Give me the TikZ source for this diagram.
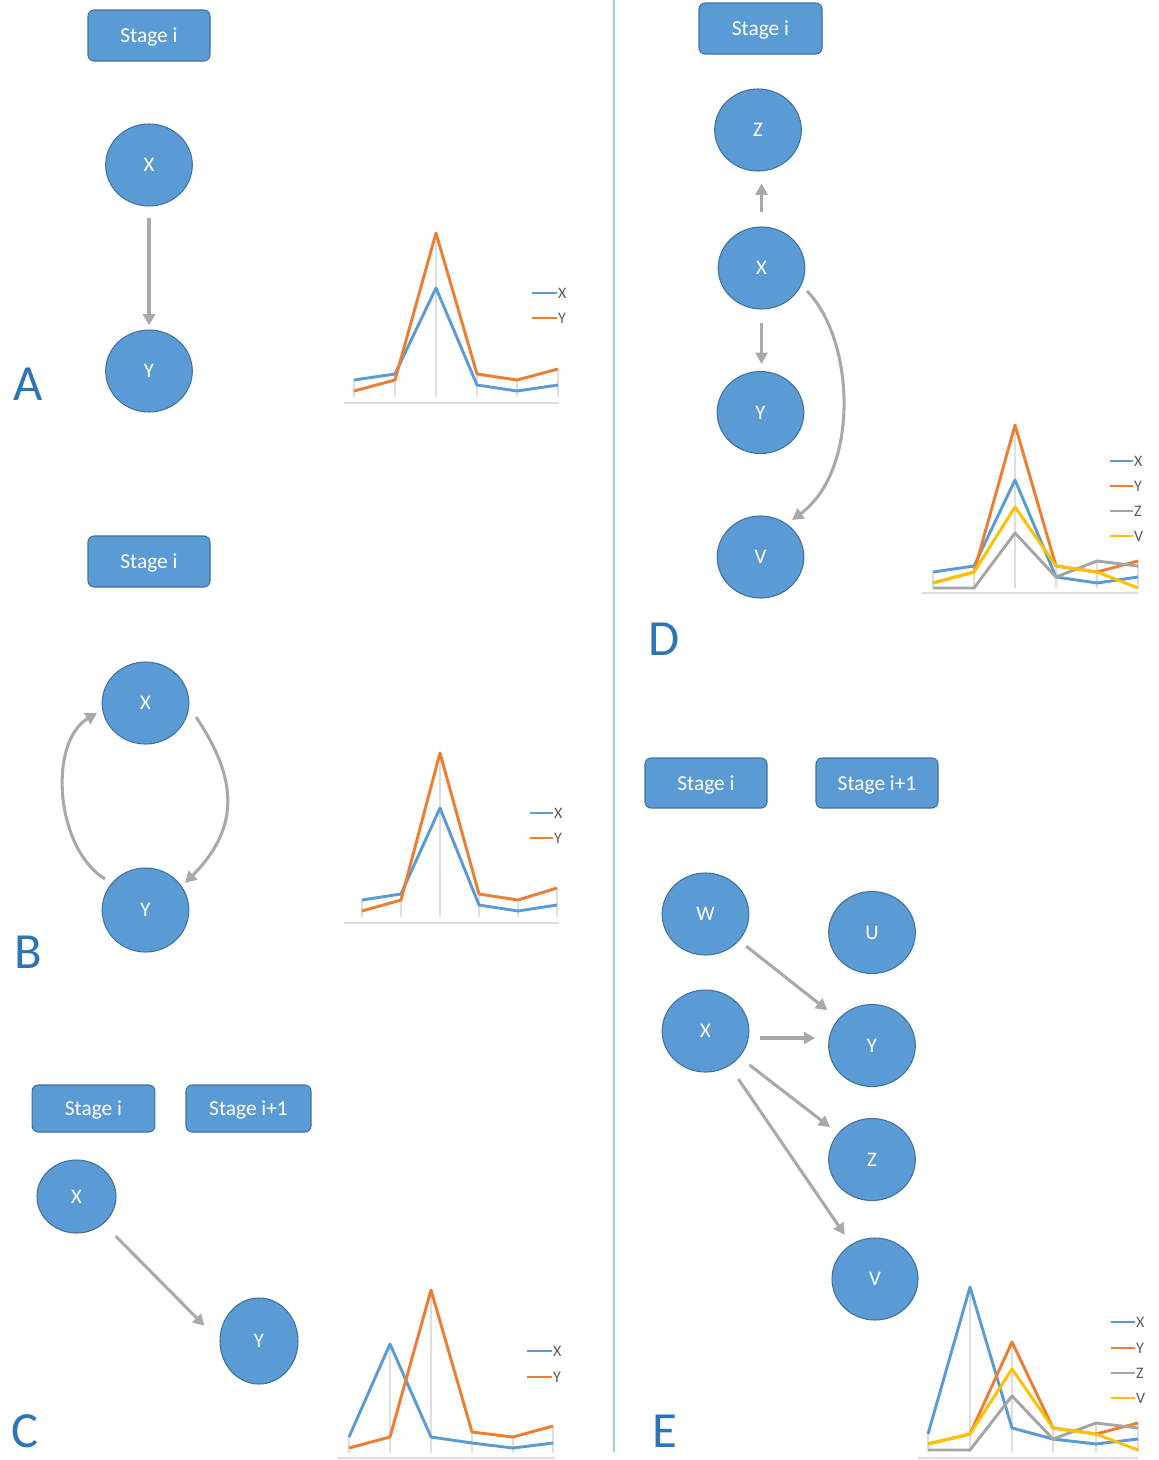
\documentclass[tikz,border=0pt]{standalone}
\usepackage{fontspec}
\setmainfont{Carlito}
\usetikzlibrary{arrows.meta,shapes.geometric,calc}
\definecolor{nodefill}{HTML}{5B9BD5}
\definecolor{nodeedge}{HTML}{41719C}
\definecolor{arrgray}{HTML}{A9A9A9}
\definecolor{letterblue}{HTML}{2E75B6}
\definecolor{divider}{HTML}{A9CBEA}
\definecolor{gridgray}{HTML}{DEDEDE}
\definecolor{sblue}{HTML}{5B9BD5}
\definecolor{sorange}{HTML}{ED7D31}
\definecolor{sgray}{HTML}{A5A5A5}
\definecolor{syellow}{HTML}{FFC000}
\definecolor{legtext}{HTML}{595959}
\begin{document}
\begin{tikzpicture}[x=0.75pt,y=-0.75pt,
  cnode/.style={ellipse,draw=nodeedge,line width=0.8pt,fill=nodefill,
    minimum width=65pt,minimum height=61.5pt,inner sep=0pt,text=white,
    font=\fontsize{15.5}{18}\selectfont},
  stagebox/.style={rectangle,rounded corners=4.5pt,draw=nodeedge,line width=0.8pt,
    fill=nodefill,minimum width=91.5pt,minimum height=38.25pt,inner sep=0pt,
    text=white,text depth=0pt,font=\fontsize{16}{19}\selectfont},
  panel/.style={text=letterblue,inner sep=0pt,font=\fontsize{38}{44}\selectfont},
  arr/.style={draw=arrgray,line width=2.3pt,
    -{Triangle[length=8.5pt,width=9pt]}},
  dropline/.style={draw=gridgray,line width=0.8pt},
  axisline/.style={draw=gridgray,line width=1.1pt},
  series/.style={line width=2.2pt,line join=round},
  serX/.style={series,draw=sblue},
  serY/.style={series,draw=sorange},
  serZ/.style={series,draw=sgray},
  serV/.style={series,draw=syellow},
  legline/.style={line width=2.2pt},
  legtxt/.style={anchor=west,inner sep=0.6pt,text=legtext,
    font=\fontsize{12}{14}\selectfont},
]
\useasboundingbox (0,0) rectangle (1158,1460);

% column divider
\draw[divider,line width=1.1pt] (614,0) -- (614,1452);

%% ---------------- Panel A ----------------
\node[stagebox] (aS) at (149,35.5) {Stage i};
\node[cnode] (aX) at (149,165) {X};
\node[cnode] (aY) at (149,371) {Y};
\draw[arr,shorten <=8.25pt,shorten >=3pt] (aX) -- (aY);
\node[panel] (aL) at (28,384.5) {A};

\draw[dropline] (354,380)--(354,397) (395,374)--(395,397) (436,233)--(436,397)
  (477,374)--(477,397) (517,380)--(517,397) (558,369)--(558,397);
\draw[axisline] (344,403)--(559,403);
\draw[serX] (354,380)--(395,374)--(436,288)--(477,385)--(517,391)--(558,385);
\draw[serY] (354,391)--(395,380)--(436,233)--(477,374)--(517,380)--(558,369);
\draw[legline,sblue] (532,293)--(557,293);
\node[legtxt] at (557,293) {X};
\draw[legline,sorange] (532,318)--(557,318);
\node[legtxt] at (557,318) {Y};

%% ---------------- Panel B ----------------
\node[stagebox] (bS) at (149,561.5) {Stage i};
\node[cnode] (bX) at (145.5,703) {X};
\node[cnode,minimum height=63pt] (bY) at (145.5,910) {Y};
\draw[arr] ($(bX)+(50.5,14)$) .. controls ($(bX)+(89.5,72)$) and ($(bY)+(97.5,-85)$) .. ($(bY)+(39.5,-27)$);
\draw[arr] ($(bY)+(-40.5,-31)$) .. controls ($(bY)+(-90.5,-62)$) and ($(bX)+(-97.5,39)$) .. ($(bX)+(-48.5,10)$);
\node[panel] (bL) at (28,952) {B};

\draw[dropline] (362,900)--(362,917) (401,894)--(401,917) (440,753)--(440,917)
  (479,894)--(479,917) (518,900)--(518,917) (557,888)--(557,917);
\draw[axisline] (344,923)--(559,923);
\draw[serX] (362,900)--(401,894)--(440,808)--(479,905)--(518,911)--(557,905);
\draw[serY] (362,911)--(401,900)--(440,753)--(479,894)--(518,900)--(557,888);
\draw[legline,sblue] (530,813)--(553,813);
\node[legtxt] at (553,813) {X};
\draw[legline,sorange] (530,838)--(553,838);
\node[legtxt] at (553,838) {Y};

%% ---------------- Panel C ----------------
\node[stagebox,minimum width=92pt,minimum height=35.25pt] (cS) at (93.5,1108.5) {Stage i};
\node[stagebox,minimum width=93.75pt,minimum height=35.25pt] (cT) at (248.5,1108.5) {Stage i+1};
\node[cnode,minimum width=59.25pt,minimum height=54.75pt] (cX) at (76.5,1196.5) {X};
\node[cnode,minimum width=58.5pt,minimum height=64.5pt] (cY) at (259,1341) {Y};
\draw[arr,shorten <=13pt,shorten >=16pt] (cX) -- (cY.west);
\node[panel] (cL) at (25,1431.5) {C};

\draw[dropline] (349,1437)--(349,1453) (390,1344)--(390,1453) (431,1290)--(431,1453)
  (472,1432)--(472,1453) (513,1437)--(513,1453) (553,1426)--(553,1453);
\draw[axisline] (338,1458)--(555,1458);
\draw[serX] (349,1437)--(390,1344)--(431,1437)--(472,1443)--(513,1448)--(553,1443);
\draw[serY] (349,1448)--(390,1437)--(431,1290)--(472,1432)--(513,1437)--(553,1426);
\draw[legline,sblue] (527,1351)--(552,1351);
\node[legtxt] at (552,1351) {X};
\draw[legline,sorange] (527,1377)--(552,1377);
\node[legtxt] at (552,1377) {Y};

%% ---------------- Panel D ----------------
\node[stagebox,minimum width=92.25pt] (dS) at (760.5,28.5) {Stage i};
\node[cnode] (dZ) at (758,130) {Z};
\node[cnode] (dX) at (761.5,268) {X};
\node[cnode] (dY) at (760.5,412.5) {Y};
\node[cnode] (dV) at (760.5,557) {V};
\draw[arr,shorten <=10.5pt,shorten >=9pt] (dX.north) -- (dX.north |- dZ.south);
\draw[arr,shorten <=9.75pt,shorten >=5.25pt] (dX.south) -- (dX.south |- dY.north);
\draw[arr] ($(dX)+(45.5,23)$) .. controls ($(dX)+(93.5,72)$) and ($(dV)+(99.5,-87)$) .. ($(dV)+(31.5,-37)$);
\node[panel] (dL) at (664,639) {D};

\draw[dropline] (933,572)--(933,588) (974,566)--(974,588) (1015,425)--(1015,588)
  (1056,566)--(1056,588) (1097,561)--(1097,588) (1138,561)--(1138,588);
\draw[axisline] (922,593)--(1138,593);
\draw[serX] (933,572)--(974,566)--(1015,480)--(1056,577)--(1097,583)--(1138,577);
\draw[serY] (933,583)--(974,572)--(1015,425)--(1056,566)--(1097,572)--(1138,561);
\draw[serZ] (933,588)--(974,588)--(1015,533)--(1056,577)--(1097,561)--(1138,566);
\draw[serV] (933,583)--(974,572)--(1015,507)--(1056,566)--(1097,572)--(1138,588);
\draw[legline,sblue] (1110,461)--(1133,461);
\node[legtxt] at (1133,461) {X};
\draw[legline,sorange] (1110,486)--(1133,486);
\node[legtxt] at (1133,486) {Y};
\draw[legline,sgray] (1110,511)--(1133,511);
\node[legtxt] at (1133,511) {Z};
\draw[legline,syellow] (1110,536)--(1133,536);
\node[legtxt] at (1133,536) {V};

%% ---------------- Panel E ----------------
\node[stagebox,minimum height=37.5pt] (eS) at (706,783) {Stage i};
\node[stagebox,minimum height=37.5pt] (eT) at (877,783) {Stage i+1};
\node[cnode] (eW) at (705.5,914) {W};
\node[cnode] (eU) at (872,932.5) {U};
\node[cnode] (eX) at (705.5,1031) {X};
\node[cnode] (eY) at (872,1045.5) {Y};
\node[cnode] (eZ) at (872,1159.5) {Z};
\node[cnode,minimum width=64.5pt] (eV) at (875,1279) {V};
\draw[arr,shorten <=6.75pt,shorten >=10.5pt] (eW) -- (eY);
\draw[arr,shorten <=8.25pt,shorten >=9.75pt] ([yshift=-5.25pt]eX.east) -- ([yshift=-5.25pt]eX.east -| eY.west);
\draw[arr,shorten <=9.5pt,shorten >=7.5pt] (eX) -- (eZ);
\draw[arr,shorten <=12pt,shorten >=8.6pt] (eX) -- (eV);
\node[panel] (eL) at (665,1431.5) {E};

\draw[dropline] (928,1434)--(928,1452) (970,1287)--(970,1452) (1012,1342)--(1012,1452)
  (1053,1428)--(1053,1452) (1096,1423)--(1096,1452) (1138,1423)--(1138,1452);
\draw[axisline] (918,1458)--(1138,1458);
\draw[serX] (928,1434)--(970,1287)--(1012,1428)--(1053,1439)--(1096,1444)--(1138,1439);
\draw[serY] (928,1444)--(970,1434)--(1012,1342)--(1053,1428)--(1096,1434)--(1138,1423);
\draw[serZ] (928,1450)--(970,1450)--(1012,1396)--(1053,1439)--(1096,1423)--(1138,1428);
\draw[serV] (928,1444)--(970,1434)--(1012,1369)--(1053,1428)--(1096,1434)--(1138,1450);
\draw[legline,sblue] (1111,1322)--(1135,1322);
\node[legtxt] at (1135,1322) {X};
\draw[legline,sorange] (1111,1348)--(1135,1348);
\node[legtxt] at (1135,1348) {Y};
\draw[legline,sgray] (1111,1373)--(1135,1373);
\node[legtxt] at (1135,1373) {Z};
\draw[legline,syellow] (1111,1398)--(1135,1398);
\node[legtxt] at (1135,1398) {V};
\end{tikzpicture}
\end{document}
